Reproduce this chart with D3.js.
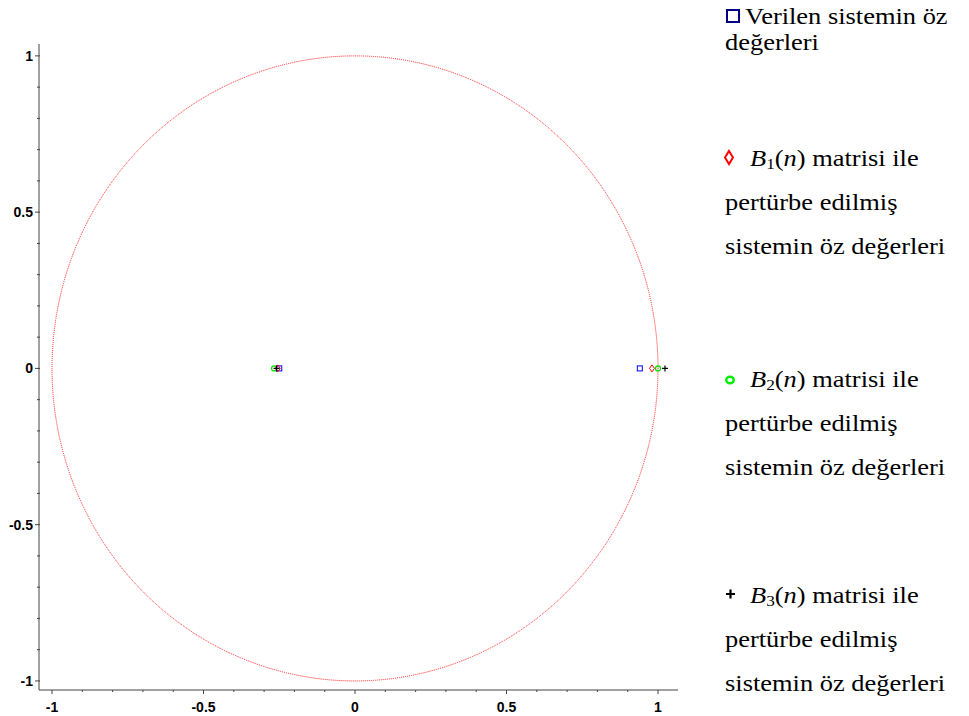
<!DOCTYPE html>
<html lang="tr">
<head>
<meta charset="UTF-8">
<title>Öz değerler</title>
<script src="https://d3js.org/d3.v7.min.js"></script>
<style>
  body { margin: 0; background: #fff; }
  .tick text { font: bold 14px "Liberation Sans", Arial, sans-serif; fill: #000; }
  .legend text { font-family: "Liberation Serif", "Times New Roman", serif; font-size: 23px; fill: #000; }
</style>
</head>
<body>
<script>
// eigenvalues (real parts, imaginary parts are 0)
var verilen = [-0.250, 0.940];
var b1 = [-0.255, 0.980];
var b2 = [-0.267, 1.000];
var b3 = [-0.259, 1.023];
var tickVals = [-1, -0.5, 0, 0.5, 1];
var tickLabels = ["-1", "-0.5", "0", "0.5", "1"];

var svg = d3.select("body").append("svg")
    .attr("width", 969)
    .attr("height", 716);

var x = d3.scaleLinear().domain([-1.043, 1.066]).range([39, 678]);
var y = d3.scaleLinear().domain([-1.029, 1.038]).range([690, 44]);

// unit circle, dotted red
svg.append("ellipse")
    .attr("cx", x(0)).attr("cy", y(0))
    .attr("rx", x(1) - x(0)).attr("ry", y(0) - y(1))
    .attr("fill", "none")
    .attr("stroke", "#ff2020")
    .attr("stroke-width", 1)
    .attr("stroke-dasharray", "1,1");

// axes
var minor = d3.range(-10, 11).map(function (d) { return d / 10; });

var xAxis = svg.append("g").attr("transform", "translate(0,690)");
xAxis.append("line").attr("x1", 39).attr("x2", 678).attr("stroke", "#444");
xAxis.selectAll(".mt").data(minor).enter().append("line")
    .attr("x1", function (d) { return x(d); }).attr("x2", function (d) { return x(d); })
    .attr("y1", 0).attr("y2", function (d, i) { return i % 5 === 0 ? 4 : 2; })
    .attr("stroke", "#444");
xAxis.selectAll(".tick").data(tickVals).enter().append("g").attr("class", "tick")
    .append("text")
    .attr("x", function (d) { return x(d); })
    .attr("y", 22)
    .attr("text-anchor", "middle")
    .text(function (d, i) { return tickLabels[i]; });

var yAxis = svg.append("g").attr("transform", "translate(39,0)");
yAxis.append("line").attr("y1", 44).attr("y2", 690).attr("stroke", "#444");
yAxis.selectAll(".mt").data(minor).enter().append("line")
    .attr("y1", function (d) { return y(d); }).attr("y2", function (d) { return y(d); })
    .attr("x1", function (d, i) { return i % 5 === 0 ? -4 : -2; }).attr("x2", 1)
    .attr("stroke", "#444");
yAxis.selectAll(".tick").data(tickVals).enter().append("g").attr("class", "tick")
    .append("text")
    .attr("x", -6)
    .attr("y", function (d) { return y(d) + 5; })
    .attr("text-anchor", "end")
    .text(function (d, i) { return tickLabels[i]; });

// points
var y0 = y(0);
svg.selectAll(".sq").data(verilen).enter().append("rect")
    .attr("x", function (d) { return x(d) - 2.5; }).attr("y", y0 - 2.5)
    .attr("width", 5).attr("height", 5)
    .attr("fill", "none").attr("stroke", "#0000ff").attr("stroke-width", 1);

svg.selectAll(".di").data(b1).enter().append("path")
    .attr("d", function (d) { var cx = x(d); return "M" + cx + "," + (y0 - 3.5) + "L" + (cx + 2.5) + "," + y0 + "L" + cx + "," + (y0 + 3.5) + "L" + (cx - 2.5) + "," + y0 + "Z"; })
    .attr("fill", "none").attr("stroke", "#ff0000").attr("stroke-width", 1);

svg.selectAll(".ci").data(b2).enter().append("circle")
    .attr("cx", function (d) { return x(d); }).attr("cy", y0).attr("r", 2.5)
    .attr("fill", "none").attr("stroke", "#00dd00").attr("stroke-width", 1.2);

svg.selectAll(".cr").data(b3).enter().append("path")
    .attr("d", function (d) { var cx = x(d); return "M" + (cx - 3) + "," + y0 + "H" + (cx + 3) + "M" + cx + "," + (y0 - 3) + "V" + (y0 + 3); })
    .attr("stroke", "#000").attr("stroke-width", 1.2);

// legend
var lg = svg.append("g").attr("class", "legend");

function addText(tx, ty) {
    return lg.append("text").attr("transform", "translate(" + tx + "," + ty + ") scale(1.15,1)");
}

lg.append("rect").attr("x", 727).attr("y", 10).attr("width", 12).attr("height", 12)
    .attr("fill", "none").attr("stroke", "#000080").attr("stroke-width", 2);
addText(745, 24).text("Verilen sistemin öz");
addText(725, 50).text("değerleri");

function bLabel(idx, yb) {
    var t = addText(750, yb);
    t.append("tspan").style("font-style", "italic").text("B");
    t.append("tspan").style("font-size", "15px").attr("dy", 3).text(idx);
    t.append("tspan").attr("dy", -3).text("(");
    t.append("tspan").style("font-style", "italic").text("n");
    t.append("tspan").text(") matrisi ile");
    addText(725, yb + 44).text("pertürbe edilmiş");
    addText(725, yb + 88).text("sistemin öz değerleri");
}

lg.append("path").attr("d", "M729,151L733,157.5L729,164L725,157.5Z")
    .attr("fill", "none").attr("stroke", "#ff0000").attr("stroke-width", 2);
bLabel("1", 166);

lg.append("ellipse").attr("cx", 730).attr("cy", 380).attr("rx", 3.8).attr("ry", 3.3)
    .attr("fill", "none").attr("stroke", "#00ee00").attr("stroke-width", 2.4);
bLabel("2", 387);

lg.append("path").attr("d", "M726,594H735M730.5,589.5V598.5")
    .attr("stroke", "#000").attr("stroke-width", 2.2);
bLabel("3", 603);
</script>
</body>
</html>
